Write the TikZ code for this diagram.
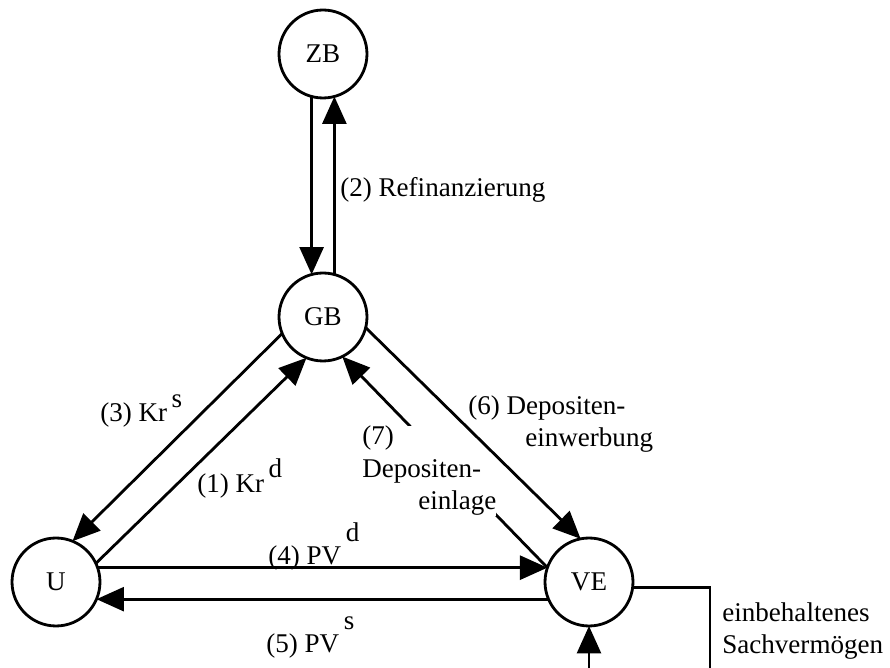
\documentclass[tikz,border=0pt]{standalone}
\usepackage{fontspec}
\setmainfont{Liberation Serif}
\usetikzlibrary{arrows.meta}
\newcommand{\hoch}[2]{\,\raisebox{#1}{#2}}
\begin{document}
\begin{tikzpicture}[x=0.02cm, y=-0.02cm,
  font=\fontsize{15.4}{18.5}\selectfont,
  sek/.style={circle, draw, line width=1.6pt, minimum size=1.76cm, inner sep=0pt, outer sep=0pt},
  fl/.style={line width=1.6pt, -{Triangle[length=0.55cm, width=0.48cm]}},
  txt/.style={inner sep=0pt, anchor=base west, align=left}]
\useasboundingbox (0,0) rectangle (890,668);
\clip (0,0) rectangle (890,668);
\node[sek] (ZB) at (323,54) {ZB};
\node[sek] (GB) at (323,317) {GB};
\node[sek] (U) at (56,582) {U};
\node[sek] (VE) at (589,582) {VE};
\draw[fl] (ZB.255) -- (GB.105);
\draw[fl] (GB.75) -- (ZB.285);
\draw[fl] (GB.202) -- (U.68);
\draw[fl] (U.25) -- (GB.248);
\draw[fl] (U.19) -- (VE.161);
\draw[fl] (VE.203) -- (U.337);
\draw[fl] (VE.161) -- (GB.296);
% the (7) label hides the middle of its own arrow
\node[txt, fill=white] (l7) at (362,510) {(7)\\Depositen-\\\hspace*{1.12cm}einlage};
\draw[fl] (GB.346) -- (VE.101);
\coordinate (svturn) at (710,700);
\draw[fl] (VE.-7) -| (svturn) -| (VE.south);
% labels, multi-line ones anchored at their last baseline
\node[txt] (l2) at (340,197) {(2) Refinanzierung};
\node[txt] (l3) at (100,422) {(3) Kr\hoch{.52em}{s}};
\node[txt] (l1) at (197,493) {(1) Kr\hoch{.59em}{d}};
\node[txt] (l4) at (268,565) {(4) PV\hoch{.85em}{d}};
\node[txt] (l5) at (266,653) {(5) PV\hoch{.85em}{s}};
\node[txt] (l6) at (468,447) {(6) Depositen-\\\hspace*{1.14cm}einwerbung};
\node[txt] (lsv) at (722,654) {einbehaltenes\\Sachvermögen};
\end{tikzpicture}
\end{document}
